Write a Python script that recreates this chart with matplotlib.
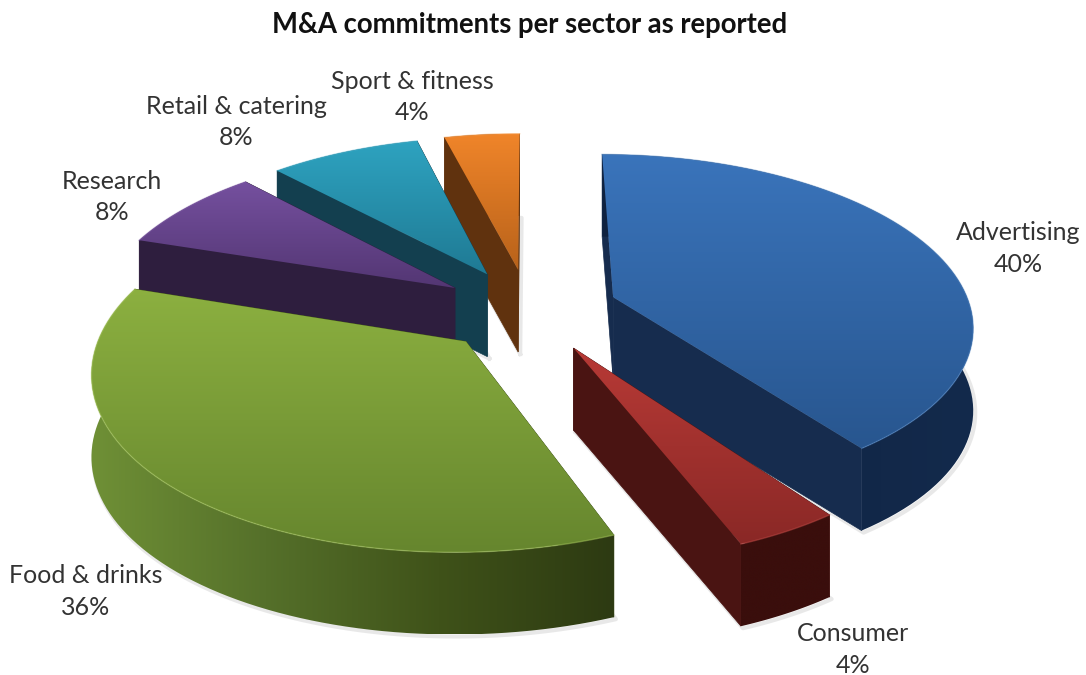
import numpy as np
import matplotlib
matplotlib.use('Agg')
from matplotlib import pyplot as plt
from matplotlib.colors import LinearSegmentedColormap
from matplotlib.patches import Polygon

plt.rcParams['font.family'] = ['Lato', 'DejaVu Sans']

title = 'M&A commitments per sector as reported'
sectors = ['Advertising', 'Consumer', 'Food & drinks', 'Research', 'Retail & catering', 'Sport & fitness']
shares = [40, 4, 36, 8, 8, 4]

# top face colours (light, dark)
top_colors = [('#3a74bb', '#28568f'), ('#b83a36', '#8a2826'), ('#8cb040', '#66862e'),
              ('#75509f', '#533673'), ('#2ea3c0', '#1f7a94'), ('#f0852a', '#b8621a')]
# flat colour of the cut faces, left to right colours of the rounded wall
cut_colors = ['#162c4e', '#4a1412', '#3f5219', '#2e1e3e', '#133f4f', '#60320e']
wall_colors = [('#0f2240', '#132a4c'), ('#3a0e0c', '#3a0e0c'), ('#6f9036', '#55702a', '#3f5219', '#2d3a12'),
               ('#2e1e3e', '#2e1e3e'), ('#133f4f', '#133f4f'), ('#60320e', '#60320e')]
rim_colors = ['#4a80c0', '#c04a46', '#a4c45c', '#8560ad', '#45b0cc', '#f59a4a']

label_x = [1018, 853, 86, 112, 236, 412]
label_y = [248.5, 649.5, 591.5, 197, 122, 97]

# projection of the pie, pixels
cx, cy = 529, 310
scale = 358
elev = np.radians(28)
dist = 5.8
depth = 0.26
explode = 0.25


def project(x, y, z):
    # walls stay vertical on screen, only the top face gets perspective
    s = dist / (dist + y * np.cos(elev))
    return np.column_stack([cx + scale * x * s,
                            cy - scale * (y * np.sin(elev) * s + z * np.cos(elev))])


def gradient(ax, pts, colors, z, sideways=False):
    cmap = LinearSegmentedColormap.from_list('g', colors)
    x0, y0 = pts.min(axis=0)
    x1, y1 = pts.max(axis=0)
    ramp = np.linspace(0, 1, 256)
    ramp = ramp.reshape(1, -1) if sideways else ramp.reshape(-1, 1)
    im = ax.imshow(ramp, cmap=cmap, aspect='auto', extent=(x0, x1, y1, y0),
                   origin='upper', zorder=z, interpolation='bilinear')
    im.set_clip_path(Polygon(pts, transform=ax.transData))


fig = plt.figure(figsize=(10.86, 6.75), dpi=100)
ax = fig.add_axes([0, 0, 1, 1])

edges = np.cumsum([0] + shares) / sum(shares) * 2 * np.pi
mids = (edges[:-1] + edges[1:]) / 2
# paint from the back of the pie to the front
order = np.argsort(-np.cos(mids))
z = 1
for i in order:
    ox, oy = explode * np.sin(mids[i]), explode * np.cos(mids[i])
    t = np.linspace(edges[i], edges[i + 1], 80)
    ax_x, ax_y = ox + np.sin(t), oy + np.cos(t)
    ones = np.ones_like(t)
    top_arc = project(ax_x, ax_y, 0 * ones)
    low_arc = project(ax_x, ax_y, -depth * ones)
    apex_top = project(np.array([ox]), np.array([oy]), np.array([0.0]))
    apex_low = project(np.array([ox]), np.array([oy]), np.array([-depth]))

    # soft shadow under the slice
    base = np.vstack([apex_low, low_arc, apex_low])
    ax.plot(base[:, 0] + 2, base[:, 1] + 2, color='#999999', lw=3, alpha=0.22, zorder=z)
    z += 1

    walls = [np.vstack([apex_top, top_arc[:1], low_arc[:1], apex_low]),
             np.vstack([apex_top, top_arc[-1:], low_arc[-1:], apex_low]),
             np.vstack([top_arc, low_arc[::-1]])]
    wall_y = [oy + np.cos(edges[i]) / 2, oy + np.cos(edges[i + 1]) / 2, oy + np.cos(mids[i])]
    for k in np.argsort(wall_y)[::-1]:
        if k == 2:
            gradient(ax, walls[k], wall_colors[i], z, sideways=True)
        else:
            ax.add_patch(Polygon(walls[k], closed=True, color=cut_colors[i], lw=0.5, zorder=z))
        z += 1
    gradient(ax, np.vstack([apex_top, top_arc]), top_colors[i], z)
    z += 1
    ax.plot(top_arc[:, 0], top_arc[:, 1], color=rim_colors[i], lw=1.0, alpha=0.5, zorder=z)
    z += 1

for name, share, x, y in zip(sectors, shares, label_x, label_y):
    ax.text(x, y, f'{name}\n{share}%', ha='center', va='center', fontsize=18,
            color='#333333', linespacing=1.45, zorder=z)
ax.text(530, 25, title, ha='center', va='center', fontsize=19.8, fontweight='bold', color='#111111', zorder=z)

ax.set_xlim(0, 1086)
ax.set_ylim(675, 0)
ax.axis('off')
fig.savefig('out.png', dpi=100)
